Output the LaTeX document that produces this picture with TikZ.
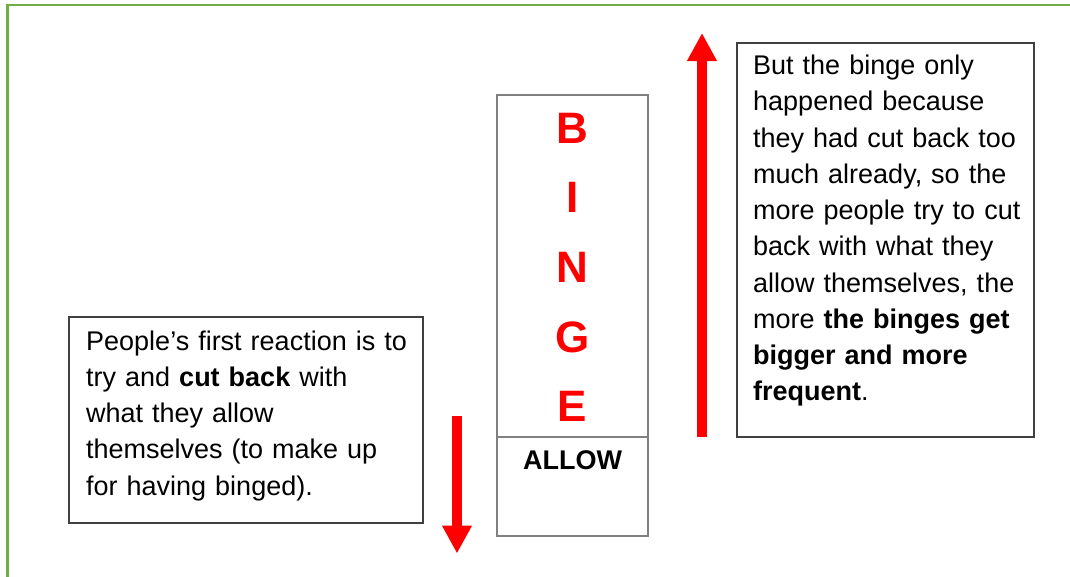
\documentclass[tikz,border=0pt]{standalone}
\usepackage{fontspec}
\setmainfont{Liberation Sans}
\usetikzlibrary{arrows.meta}

\definecolor{framegreen}{HTML}{70AD47}
\definecolor{boxgray}{HTML}{404040}
\definecolor{cellgray}{HTML}{808080}
\definecolor{alarm}{HTML}{FF0000}

\tikzset{
  frameline/.style={draw=framegreen, line width=2.2pt},
  textbox/.style={draw=boxgray, line width=1.2pt, inner sep=0pt, minimum width=#1},
  cellbox/.style={draw=cellgray, line width=1.4pt, inner sep=0pt, minimum width=151pt},
  para/.style={inner sep=0pt, anchor=base west, align=left, text width=#1,
    font=\fontsize{27}{36.25}\selectfont},
  letter/.style={inner sep=0pt, anchor=base, text=alarm,
    font=\fontsize{44}{44}\selectfont\bfseries},
  label/.style={inner sep=0pt, anchor=base, font=\fontsize{27}{27}\selectfont\bfseries},
  bigarrow/.style={draw=alarm, line width=10pt, -{Triangle[length=28pt,width=28pt]}}
}

\begin{document}
\begin{tikzpicture}[x=1pt,y=-1pt]
\useasboundingbox (0,0) rectangle (1070,576);

% green page frame (top and left edges)
\draw[frameline] (1075,5) -- (7.5,5) -- (7.5,580);

% explanatory boxes
\node[textbox=354pt, minimum height=206pt] (causebox) at (246,420) {};
\node[textbox=297pt, minimum height=394pt] (effectbox) at (885.5,240) {};

\node[para=330pt] (causetext) at (86,350)
  {People’s first reaction is to\\
   try and \textbf{cut back} with\\
   what they allow\\
   themselves (to make up\\
   for having binged).};

\node[para=280pt] (effecttext) at (753,74.5)
  {But the binge only\\
   happened because\\
   they had cut back too\\
   much already, so the\\
   more people try to cut\\
   back with what they\\
   allow themselves, the\\
   more \textbf{the binges get}\\
   \textbf{bigger and more}\\
   \textbf{frequent}.};

% the binge / allow column
\node[cellbox, minimum height=342pt] (bingecell) at (572.5,266) {};
\node[cellbox, minimum height=99pt] (allowcell) at (572.5,486.5) {};

\foreach \ch/\y in {B/143.3, I/212.9, N/282.4, G/352.0, E/421.5}
  \node[letter] (letter\ch) at (572.5,\y) {\ch};

\node[label] (allowlabel) at (572.5,469) {ALLOW};

% arrows: cutting back pushes down, binges push up
\coordinate (downstart) at (457,416);
\coordinate (downend) at (457,553.5);
\draw[bigarrow] (downstart) -- (downend);

\coordinate (upstart) at (702,437);
\coordinate (upend) at (702,33);
\draw[bigarrow] (upstart) -- (upend);
\end{tikzpicture}
\end{document}
